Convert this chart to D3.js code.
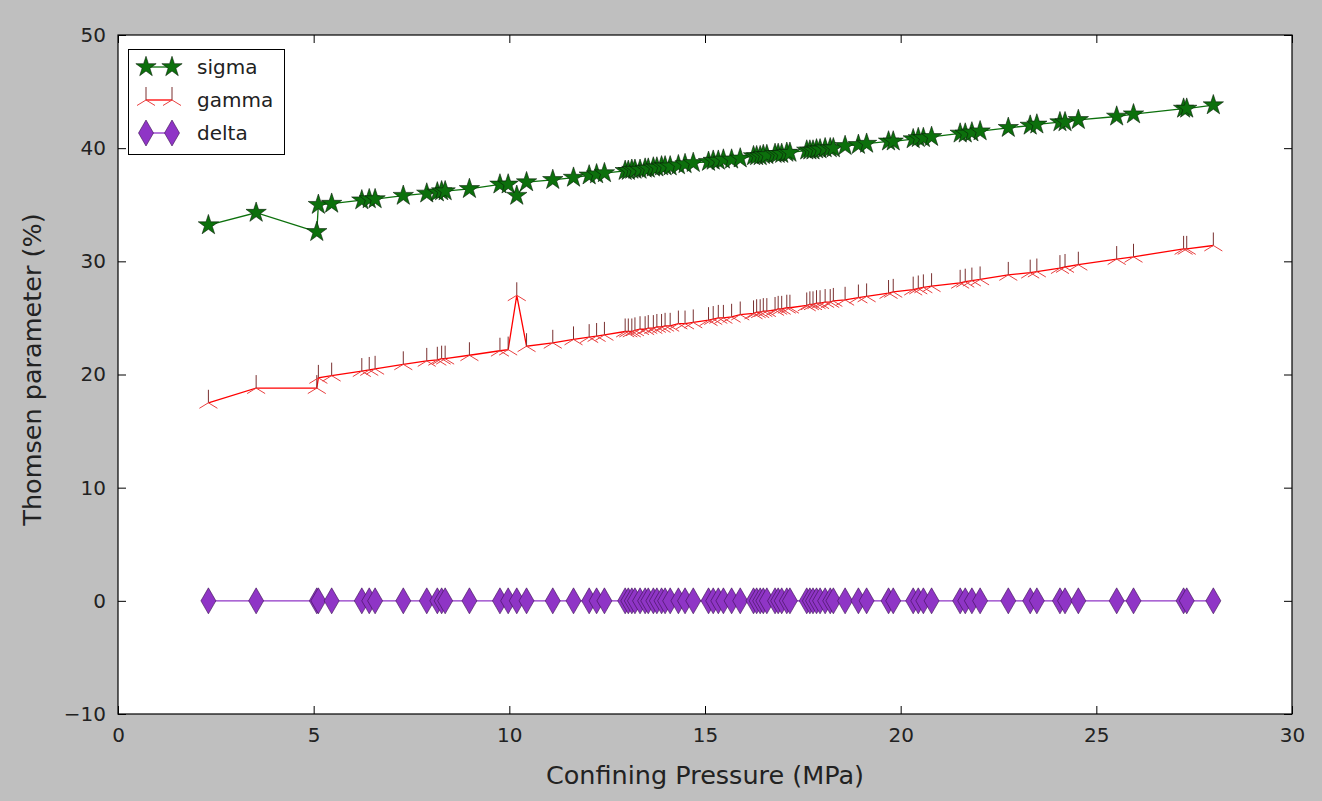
<!DOCTYPE html>
<html><head><meta charset="utf-8">
<script src="https://cdn.jsdelivr.net/npm/d3@7"></script>
<style>
html,body{margin:0;padding:0;background:#bfbfbf;}
svg{display:block;}
text{font-family:"DejaVu Sans",sans-serif;}
</style></head>
<body>
<script>
const pressure = [2.31, 3.53, 5.08, 5.12, 5.46, 6.23, 6.42, 6.57, 7.29, 7.89, 8.16, 8.27, 8.36, 8.98, 9.76, 9.97, 10.19, 10.44, 11.11, 11.64, 12.04, 12.23, 12.43, 12.96, 13.04, 13.13, 13.21, 13.34, 13.47, 13.55, 13.68, 13.77, 13.89, 13.98, 14.11, 14.32, 14.49, 14.70, 15.09, 15.21, 15.34, 15.47, 15.68, 15.90, 16.24, 16.32, 16.41, 16.49, 16.58, 16.79, 16.87, 16.96, 17.09, 17.17, 17.60, 17.68, 17.76, 17.85, 17.94, 18.07, 18.20, 18.28, 18.58, 18.92, 19.13, 19.69, 19.81, 20.32, 20.45, 20.58, 20.79, 21.52, 21.65, 21.82, 22.03, 22.75, 23.31, 23.48, 24.07, 24.20, 24.54, 25.52, 25.95, 27.23, 27.31, 27.99];
const sigma = [33.2, 34.3, 32.6, 35.0, 35.1, 35.4, 35.5, 35.5, 35.8, 36.0, 36.1, 36.2, 36.2, 36.4, 36.8, 36.8, 35.8, 37.0, 37.2, 37.4, 37.6, 37.7, 37.8, 38.0, 38.0, 38.1, 38.1, 38.1, 38.2, 38.2, 38.3, 38.3, 38.4, 38.4, 38.4, 38.5, 38.6, 38.7, 38.8, 38.9, 38.9, 39.0, 39.0, 39.1, 39.3, 39.3, 39.3, 39.4, 39.4, 39.5, 39.5, 39.5, 39.6, 39.6, 39.8, 39.8, 39.8, 39.9, 39.9, 40.0, 40.0, 40.0, 40.2, 40.3, 40.4, 40.6, 40.6, 40.8, 40.9, 40.9, 41.0, 41.3, 41.3, 41.4, 41.5, 41.8, 42.0, 42.1, 42.3, 42.3, 42.5, 42.8, 43.0, 43.5, 43.5, 43.8];
const gamma = [17.5, 18.8, 18.8, 19.7, 19.9, 20.3, 20.4, 20.5, 20.9, 21.2, 21.3, 21.4, 21.4, 21.7, 22.1, 22.2, 27.0, 22.5, 22.8, 23.1, 23.3, 23.4, 23.5, 23.8, 23.8, 23.8, 23.9, 24.0, 24.0, 24.1, 24.1, 24.2, 24.2, 24.3, 24.3, 24.5, 24.5, 24.6, 24.8, 24.9, 25.0, 25.0, 25.1, 25.3, 25.4, 25.5, 25.5, 25.6, 25.6, 25.7, 25.8, 25.8, 25.9, 25.9, 26.1, 26.2, 26.2, 26.3, 26.3, 26.4, 26.4, 26.5, 26.6, 26.8, 26.9, 27.2, 27.3, 27.5, 27.6, 27.7, 27.8, 28.1, 28.2, 28.3, 28.4, 28.8, 29.0, 29.1, 29.4, 29.5, 29.7, 30.2, 30.4, 31.1, 31.1, 31.4];
const delta = [0.0, 0.0, 0.0, 0.0, 0.0, 0.0, 0.0, 0.0, 0.0, 0.0, 0.0, 0.0, 0.0, 0.0, 0.0, 0.0, 0.0, 0.0, 0.0, 0.0, 0.0, 0.0, 0.0, 0.0, 0.0, 0.0, 0.0, 0.0, 0.0, 0.0, 0.0, 0.0, 0.0, 0.0, 0.0, 0.0, 0.0, 0.0, 0.0, 0.0, 0.0, 0.0, 0.0, 0.0, 0.0, 0.0, 0.0, 0.0, 0.0, 0.0, 0.0, 0.0, 0.0, 0.0, 0.0, 0.0, 0.0, 0.0, 0.0, 0.0, 0.0, 0.0, 0.0, 0.0, 0.0, 0.0, 0.0, 0.0, 0.0, 0.0, 0.0, 0.0, 0.0, 0.0, 0.0, 0.0, 0.0, 0.0, 0.0, 0.0, 0.0, 0.0, 0.0, 0.0, 0.0, 0.0];
const seriesNames = ["sigma", "gamma", "delta"];
const xTicks = [0, 5, 10, 15, 20, 25, 30];
const yTicks = [-10, 0, 10, 20, 30, 40, 50];
const xLabel = "Confining Pressure (MPa)";
const yLabel = "Thomsen parameter (%)";

const W = 1322, H = 801;
const m = {left: 118, right: 1292, top: 35, bottom: 714};
const svg = d3.select("body").append("svg").attr("width", W).attr("height", H);
svg.append("rect").attr("width", W).attr("height", H).attr("fill", "#bfbfbf");

const x = d3.scaleLinear().domain([0, 30]).range([m.left, m.right]);
const y = d3.scaleLinear().domain([-10, 50]).range([m.bottom, m.top]);

svg.append("rect").attr("x", m.left).attr("y", m.top)
  .attr("width", m.right - m.left).attr("height", m.bottom - m.top).attr("fill", "#fff");

svg.append("defs").append("clipPath").attr("id", "clip").append("rect")
  .attr("x", m.left).attr("y", m.top).attr("width", m.right - m.left).attr("height", m.bottom - m.top);

const plot = svg.append("g").attr("clip-path", "url(#clip)");

const starPath = d3.symbol().type(d3.symbolStar).size(128)();
const diamondPath = "M0,-13L7.5,0L0,13L-7.5,0Z";

const series = [
  {name: seriesNames[0], vals: sigma, color: "#0c700c", kind: "star"},
  {name: seriesNames[1], vals: gamma, color: "#ff0000", kind: "tri"},
  {name: seriesNames[2], vals: delta, color: "#8f35c6", kind: "diamond"}
];

function drawMarker(g, kind, color) {
  if (kind === "star") {
    g.append("path").attr("d", starPath).attr("fill", color).attr("stroke", "#0a200a").attr("stroke-width", 0.6);
  } else if (kind === "diamond") {
    g.append("path").attr("d", diamondPath).attr("fill", color).attr("stroke", "#3a1050").attr("stroke-width", 0.6);
  } else {
    g.append("path").attr("d", "M0,0L0,-13").attr("stroke", "#7a3030").attr("stroke-width", 1);
    g.append("path").attr("d", "M-9,5.5L0,0L9,5.5").attr("fill", "none").attr("stroke", "#e84040").attr("stroke-width", 1);
  }
}

const line = d3.line().x(d => x(d[0])).y(d => y(d[1]));
series.forEach(s => {
  const pts = pressure.map((p, i) => [p, s.vals[i]]);
  plot.append("path").datum(pts).attr("d", line).attr("fill", "none")
    .attr("stroke", s.color).attr("stroke-width", 1.3);
  pts.forEach(p => {
    const g = plot.append("g").attr("transform", `translate(${x(p[0])},${y(p[1])})`);
    drawMarker(g, s.kind, s.color);
  });
});

// frame
svg.append("rect").attr("x", m.left).attr("y", m.top)
  .attr("width", m.right - m.left).attr("height", m.bottom - m.top)
  .attr("fill", "none").attr("stroke", "#000").attr("stroke-width", 1.2);

// axes (ticks inward)
const xAxisB = d3.axisBottom(x).tickValues(xTicks).tickSize(-8).tickPadding(14).tickFormat(d3.format("d"));
const xAxisT = d3.axisTop(x).tickValues(xTicks).tickSize(-8).tickFormat("");
const yAxisL = d3.axisLeft(y).tickValues(yTicks).tickSize(-8).tickPadding(12)
  .tickFormat(d => d < 0 ? "\u2212" + Math.abs(d) : String(d));
const yAxisR = d3.axisRight(y).tickValues(yTicks).tickSize(-8).tickFormat("");

function styleAxis(g) {
  g.select(".domain").remove();
  g.selectAll(".tick line").attr("stroke", "#000").attr("stroke-width", 1);
  g.selectAll(".tick text").attr("fill", "#222").attr("font-size", 20)
    .attr("font-family", "DejaVu Sans, sans-serif");
}
svg.append("g").attr("transform", `translate(0,${m.bottom})`).call(xAxisB).call(styleAxis);
svg.append("g").attr("transform", `translate(0,${m.top})`).call(xAxisT).call(styleAxis);
svg.append("g").attr("transform", `translate(${m.left},0)`).call(yAxisL).call(styleAxis);
svg.append("g").attr("transform", `translate(${m.right},0)`).call(yAxisR).call(styleAxis);

svg.append("text").attr("x", (m.left + m.right) / 2).attr("y", 784)
  .attr("text-anchor", "middle").attr("font-size", 25.5).attr("fill", "#222").text(xLabel);
svg.append("text").attr("transform", `translate(41,${(m.top + m.bottom) / 2 - 5}) rotate(-90)`)
  .attr("text-anchor", "middle").attr("font-size", 25.5).attr("fill", "#222").text(yLabel);

// legend
const lg = svg.append("g");
lg.append("rect").attr("x", 128.5).attr("y", 49.5).attr("width", 156).attr("height", 105)
  .attr("fill", "#fff").attr("stroke", "#000").attr("stroke-width", 1);
series.forEach((s, i) => {
  const yy = 67 + i * 33;
  lg.append("line").attr("x1", 146).attr("x2", 172).attr("y1", yy).attr("y2", yy)
    .attr("stroke", s.color).attr("stroke-width", 1.3);
  [146, 172].forEach(xx => {
    const g = lg.append("g").attr("transform", `translate(${xx},${yy})`);
    drawMarker(g, s.kind, s.color);
  });
  lg.append("text").attr("x", 197).attr("y", yy).attr("dy", "0.35em")
    .attr("font-size", 20).attr("fill", "#222").text(s.name);
});
</script>
</body></html>
